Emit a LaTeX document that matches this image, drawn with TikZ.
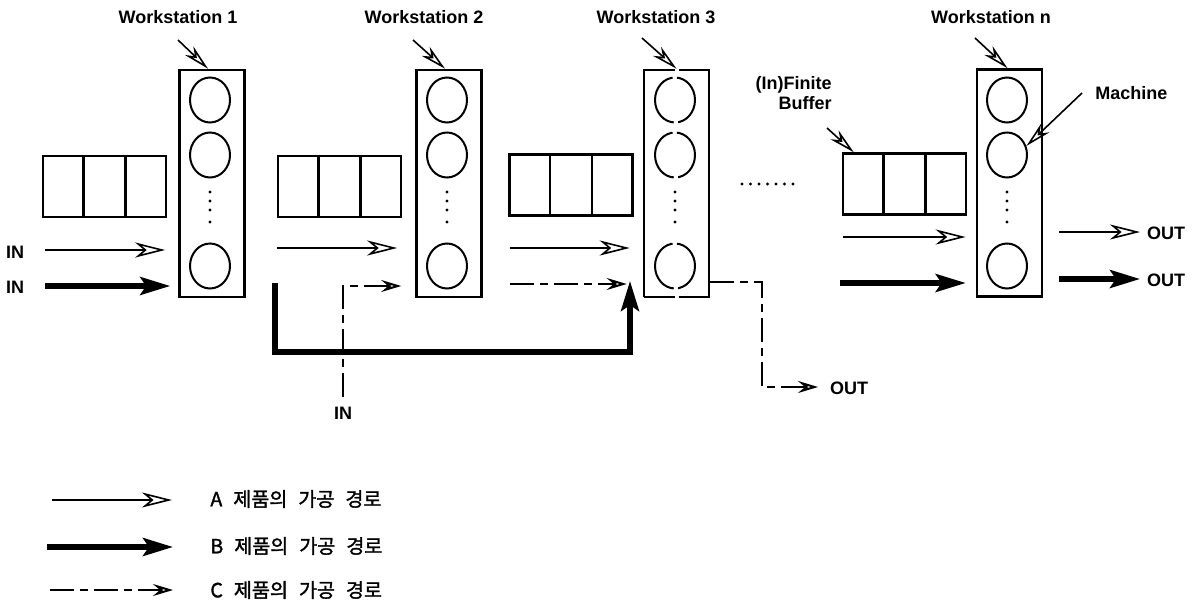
\documentclass[tikz,border=0pt]{standalone}
\usepackage{fontspec}
\setmainfont{Liberation Sans}
\newfontfamily\kr[WordSpace=2.5,FakeBold=1.5]{Noto Sans CJK KR}
\usetikzlibrary{arrows.meta,calc,shapes.geometric}
\begin{document}
\begin{tikzpicture}[x=0.5pt,y=-0.5pt,
 wsbox/.style={draw,line width=1.3pt,minimum width=32.5pt,minimum height=113.5pt,inner sep=0pt},
 mach/.style={draw,ellipse,line width=1pt,minimum width=20pt,minimum height=22.5pt,inner sep=0pt},
 buf/.style={draw,line width=1.2pt,minimum width=61.5pt,minimum height=30.5pt,inner sep=0pt},
 lab/.style={font=\fontsize{9}{10}\selectfont\bfseries,inner sep=0pt},
 krlab/.style={font=\kr\fontsize{9.8}{10}\selectfont,inner sep=0pt,anchor=west},
 aA/.style={line width=0.8pt,-{Stealth[open,length=15pt,width=7.5pt,inset=4.5pt]}},
 aB/.style={line width=2.6pt,line join=miter,-{Stealth[length=15pt,width=9pt,inset=3pt]}},
 aC/.style={line width=1pt,dash pattern=on 12pt off 3pt on 4pt off 3pt,-{Stealth[open,length=10pt,width=6pt,inset=3.5pt]}},
 ptr/.style={line width=0.8pt,-{Stealth[open,length=13pt,width=6pt,inset=4pt]}},
 mdot/.style={circle,fill,inner sep=0pt,minimum size=1.6pt},
 dashbox/.style={dash pattern=on 144pt off 2pt,dash phase=128.75pt},
 dashell/.style={dash pattern=on 31.5pt off 2.2pt,dash phase=15.8pt}
]
\useasboundingbox (0,0) rectangle (1198,605);

% workstations
\node[wsbox] (w1) at (212,183.5) {};
\node[wsbox] (w2) at (449,183.5) {};
\node[wsbox,dashbox] (w3) at (676.5,183.5) {};
\node[wsbox] (wn) at (1009.5,183) {};
\foreach \n/\x/\st in {w1/210/solid,w2/447/solid,w3/675/dashell,wn/1007/solid}{
  \node[mach,\st] (\n-m1) at (\x,100) {};
  \node[mach,\st] (\n-m2) at (\x,155) {};
  \node[mach,\st] (\n-m3) at (\x,266) {};
  \foreach \y [count=\k] in {192,201,210,222}{
    \node[mdot] (\n-d\k) at (\x,\y) {};
  }
}

% buffers
\foreach \b/\x/\y in {b1/104.5/186.5,b2/339.5/186.5,b3/571/185,bn/904.5/184}{
  \node[buf] (\b) at (\x,\y) {};
  \draw[line width=1.2pt] ($(\b.north west)!1/3!(\b.north east)$) -- ($(\b.south west)!1/3!(\b.south east)$);
  \draw[line width=1.2pt] ($(\b.north west)!2/3!(\b.north east)$) -- ($(\b.south west)!2/3!(\b.south east)$);
}

% labels
\node[lab] (l1) at (178,17) {Workstation 1};
\node[lab] (l2) at (424,17) {Workstation 2};
\node[lab] (l3) at (656,17) {Workstation 3};
\node[lab] (ln) at (991,17) {Workstation n};
\node[lab,align=right,anchor=north east] (lbuf) at (832,76) {(In)Finite\\Buffer};
\node[lab,anchor=west] (lmac) at (1095,93) {Machine};

% pointer arrows
\coordinate (p1) at (178,40);
\coordinate (p2) at (413,40);
\coordinate (p3) at (642,38);
\coordinate (pn) at (975,38);
\coordinate (pb) at (827,128);
\coordinate (pm) at (1082,93);
\draw[ptr] (p1) -- ([xshift=-2pt]w1.north);
\draw[ptr] (p2) -- ([xshift=-2pt]w2.north);
\draw[ptr] (p3) -- (w3.north);
\draw[ptr] (pn) -- ([xshift=-1pt]wn.north);
\draw[ptr] (pb) -- ($(bn.north west)+(12,0)$);
\draw[ptr] (pm) -- (wn-m2.25);

% inputs
\node[lab] (inA) at (15,252) {IN};
\node[lab] (inB) at (15,287) {IN};
\node[lab] (inC) at (343,413) {IN};
\coordinate (a1s) at (45,250);
\coordinate (b1s) at (45,286);
\draw[aA,shorten >=6.5pt] (a1s) -- (a1s -| w1.west);
\draw[aB,shorten >=4pt] (b1s) -- (b1s -| w1.west);

% WS1 -> WS2
\coordinate (a2s) at (277,248);
\draw[aA,shorten >=9pt] (a2s) -- (a2s -| w2.west);

% C into WS2
\coordinate (c2s) at (343,397);
\coordinate (c2k) at (343,286);
\draw[aC,shorten >=7pt] (c2s) -- (c2k) -- (c2k -| w2.west);

% B bypass WS2 -> WS3
\coordinate (bb0) at (275,283);
\coordinate (bb1) at (275,352);
\coordinate (bb2) at (630,352);
\coordinate (bb3) at (630,281);
\draw[aB] (bb0) -- (bb1) -- (bb2) -- (bb3);

% WS2 -> WS3
\coordinate (a3s) at (510,248);
\coordinate (c3s) at (510,284);
\draw[aA,shorten >=6.5pt] (a3s) -- (a3s -| w3.west);
\draw[aC,shorten >=8pt] (c3s) -- (c3s -| w3.west);

% C out of WS3
\coordinate (c3k1) at (762,282);
\coordinate (c3k2) at (762,387);
\coordinate (c3e) at (818,387);
\node[lab] (outC) at (849,388) {OUT};
\draw[aC] (w3.east |- c3k1) -- (c3k1) -- (c3k2) -- (c3e);

% dots between
\foreach \i in {0,...,6}{ \node[mdot] (gap\i) at (742+8.5*\i,184) {}; }

% into WSn
\coordinate (ans) at (843,237);
\coordinate (bns) at (840,283);
\draw[aA,shorten >=5pt] (ans) -- (ans -| wn.west);
\draw[aB,shorten >=5pt] (bns) -- (bns -| wn.west);

% outputs
\coordinate (aoe) at (1140,232);
\coordinate (boe) at (1140,279);
\node[lab] (outA) at (1166,233) {OUT};
\node[lab] (outB) at (1166,280) {OUT};
\draw[aA,shorten <=8pt] (wn.east |- aoe) -- (aoe);
\draw[aB,shorten <=8pt] (wn.east |- boe) -- (boe);

% legend
\coordinate (lA1) at (52,500);  \coordinate (lA2) at (172,500);
\coordinate (lB1) at (47,547);  \coordinate (lB2) at (173,547);
\coordinate (lC1) at (50,590);  \coordinate (lC2) at (173,590);
\draw[aA] (lA1) -- (lA2);
\draw[aB] (lB1) -- (lB2);
\draw[aC] (lC1) -- (lC2);
\node[krlab] (tA) at (210,499) {A 제품의 가공 경로};
\node[krlab] (tB) at (210,546) {B 제품의 가공 경로};
\node[krlab] (tC) at (210,590) {C 제품의 가공 경로};
\end{tikzpicture}
\end{document}
